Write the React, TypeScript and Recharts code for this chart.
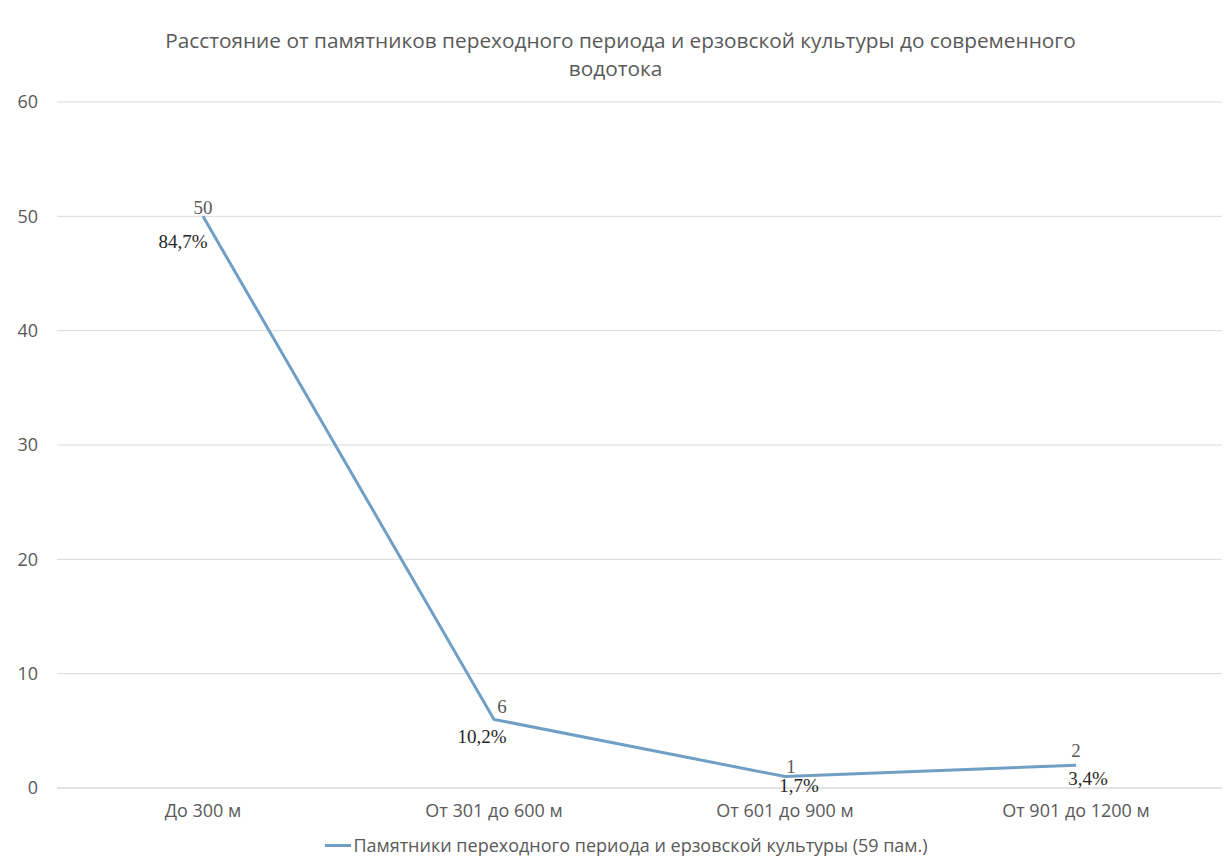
import React from 'react';
import { LineChart, Line, XAxis, YAxis, CartesianGrid, LabelList } from 'recharts';

const categories = ['До 300 м', 'От 301 до 600 м', 'От 601 до 900 м', 'От 901 до 1200 м'];
const counts = [50, 6, 1, 2];
const shares = ['84,7%', '10,2%', '1,7%', '3,4%'];
const yTicks = [0, 10, 20, 30, 40, 50, 60];

const seriesName = 'Памятники переходного периода и ерзовской культуры (59 пам.)';
const title1 = 'Расстояние от памятников переходного периода и ерзовской культуры до современного';
const title2 = 'водотока';

const data = categories.map((c, i) => ({ name: c, value: counts[i], share: shares[i] }));

const FONT = '"Open Sans", sans-serif';
const SERIF = '"Liberation Serif", serif';
const LINE = '#6f9fc4';

// value above the point, share below — offsets tuned per point like the original
const valueOffsets = [[0, -2], [8, -6], [6, -4], [0, -8]];
const shareOffsets = [[-20, 32], [-12, 24], [14, 15], [12, 20]];

const ValueLabel = (props: any) => {
  const { x, y, index, value } = props;
  const [dx, dy] = valueOffsets[index];
  return (
    <text x={x + dx} y={y + dy} textAnchor="middle" fontFamily={SERIF} fontSize={19} fill="#595959">
      {value}
    </text>
  );
};

const ShareLabel = (props: any) => {
  const { x, y, index, value } = props;
  const [dx, dy] = shareOffsets[index];
  return (
    <text x={x + dx} y={y + dy} textAnchor="middle" fontFamily={SERIF} fontSize={19} fill="#262626">
      {value}
    </text>
  );
};

export default function App() {
  return (
    <div style={{ position: 'absolute', left: 0, top: 0, width: 1231, height: 867, background: '#fff' }}>
      <div
        style={{
          position: 'absolute',
          top: 26,
          left: 0,
          width: 1231,
          textAlign: 'center',
          fontFamily: FONT,
          fontSize: 20.8,
          lineHeight: '28px',
          color: '#595959',
        }}
      >
        <div style={{ paddingLeft: 10 }}>{title1}</div>
        <div>{title2}</div>
      </div>
      <LineChart width={1231} height={867} data={data} margin={{ top: 102, right: 9, bottom: 49, left: 0 }}>
        <CartesianGrid vertical={false} stroke="#d9d9d9" />
        <XAxis
          dataKey="name"
          height={30}
          padding={{ left: 146, right: 146 }}
          axisLine={{ stroke: '#d9d9d9' }}
          tickLine={false}
          tickSize={0}
          tickMargin={16}
          tick={{ fill: '#595959', fontSize: 18, fontFamily: FONT }}
        />
        <YAxis
          width={57}
          domain={[0, 60]}
          ticks={yTicks}
          axisLine={false}
          tickLine={false}
          tickSize={0}
          tickMargin={19}
          tick={{ fill: '#595959', fontSize: 18, fontFamily: FONT }}
        />
        <Line
          type="linear"
          dataKey="value"
          name={seriesName}
          stroke={LINE}
          strokeWidth={3}
          dot={false}
          activeDot={false}
          isAnimationActive={false}
        >
          <LabelList dataKey="value" content={<ValueLabel />} />
          <LabelList dataKey="share" content={<ShareLabel />} />
        </Line>
      </LineChart>
      <div
        style={{
          position: 'absolute',
          top: 833,
          left: 0,
          width: 1231,
          paddingLeft: 22,
          boxSizing: 'border-box',
          display: 'flex',
          justifyContent: 'center',
          alignItems: 'center',
          fontFamily: FONT,
          fontSize: 18,
          color: '#595959',
        }}
      >
        <span style={{ display: 'inline-block', width: 26, height: 3, background: LINE, marginRight: 2 }} />
        <span>{seriesName}</span>
      </div>
    </div>
  );
}
